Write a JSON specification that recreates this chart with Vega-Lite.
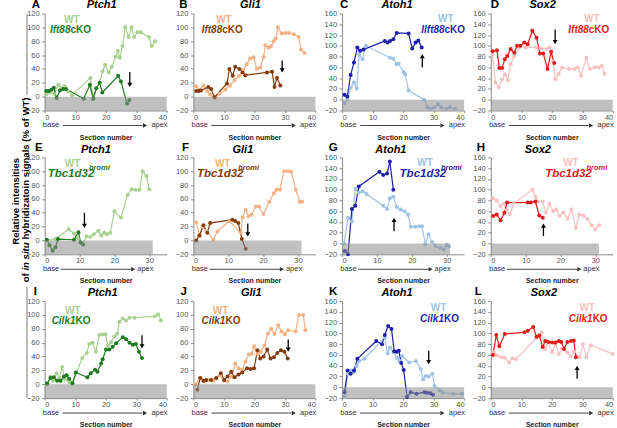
{
"$schema":"https://vega.github.io/schema/vega-lite/v6.json",
"padding":{"left":10.7,"top":-1.5,"right":0,"bottom":0},
"background":"white",
"config":{"font":"Liberation Sans","view":{"stroke":null},
"axis":{"domainColor":"#8a8a8a","tickColor":"#8a8a8a","labelColor":"#555","labelFontSize":7.5,"labelOverlap":false,"grid":false,"titleFontSize":7,"titleFontWeight":"bold","titleColor":"#222"},
"axisX":{"tickSize":2,"labelPadding":0.5,"titlePadding":12.5,"tickCount":10},
"axisY":{"tickSize":3,"labelPadding":2.5,"labelOverlap":false,"tickCount":12}},
"datasets":{
"A":[{"g":"WT","x":0.5,"y":3},{"g":"WT","x":1.5,"y":6},{"g":"WT","x":3,"y":4},{"g":"WT","x":4.5,"y":17},{"g":"WT","x":5.5,"y":12},{"g":"WT","x":6.5,"y":15},{"g":"WT","x":7.5,"y":8},{"g":"WT","x":9,"y":2},{"g":"WT","x":15,"y":27},{"g":"WT","x":16,"y":-3},{"g":"WT","x":17,"y":12},{"g":"WT","x":18,"y":20},{"g":"WT","x":19,"y":37},{"g":"WT","x":19.8,"y":46},{"g":"WT","x":21,"y":35},{"g":"WT","x":22,"y":43},{"g":"WT","x":23.3,"y":58},{"g":"WT","x":24,"y":66},{"g":"WT","x":24.6,"y":56},{"g":"WT","x":25.5,"y":73},{"g":"WT","x":26.4,"y":100},{"g":"WT","x":27.5,"y":86},{"g":"WT","x":28.5,"y":100},{"g":"WT","x":29.3,"y":86},{"g":"WT","x":30.4,"y":93},{"g":"WT","x":31.5,"y":93},{"g":"WT","x":34.2,"y":86},{"g":"WT","x":35.1,"y":73},{"g":"WT","x":36.2,"y":80},
{"g":"mut","x":0.5,"y":8},{"g":"mut","x":1.4,"y":8},{"g":"mut","x":2.2,"y":10},{"g":"mut","x":3,"y":13},{"g":"mut","x":3.9,"y":-2},{"g":"mut","x":5,"y":9},{"g":"mut","x":6.1,"y":11},{"g":"mut","x":7,"y":11},{"g":"mut","x":12.8,"y":-3},{"g":"mut","x":14.8,"y":17},{"g":"mut","x":15.9,"y":-3},{"g":"mut","x":16.9,"y":12},{"g":"mut","x":18,"y":20},{"g":"mut","x":18.9,"y":6},{"g":"mut","x":24.1,"y":30},{"g":"mut","x":25,"y":22},{"g":"mut","x":27,"y":-10},{"g":"mut","x":27.8,"y":-5}],
"B":[{"g":"WT","x":0.9,"y":15},{"g":"WT","x":1.8,"y":10},{"g":"WT","x":3.3,"y":16},{"g":"WT","x":4.5,"y":8},{"g":"WT","x":5.5,"y":3},{"g":"WT","x":7,"y":-2},{"g":"WT","x":8.5,"y":4},{"g":"WT","x":10.5,"y":10},{"g":"WT","x":12,"y":16},{"g":"WT","x":13.5,"y":24},{"g":"WT","x":15,"y":30},{"g":"WT","x":16.3,"y":38},{"g":"WT","x":17.5,"y":47},{"g":"WT","x":18.6,"y":55},{"g":"WT","x":19.7,"y":57},{"g":"WT","x":20.8,"y":40},{"g":"WT","x":21.9,"y":42},{"g":"WT","x":23,"y":57},{"g":"WT","x":23.6,"y":74},{"g":"WT","x":24.7,"y":71},{"g":"WT","x":25.5,"y":73},{"g":"WT","x":26.3,"y":80},{"g":"WT","x":27,"y":84},{"g":"WT","x":27.7,"y":100},{"g":"WT","x":29,"y":91},{"g":"WT","x":30.2,"y":92},{"g":"WT","x":31.3,"y":92},{"g":"WT","x":32.9,"y":90},{"g":"WT","x":34.5,"y":86},{"g":"WT","x":35.3,"y":68},{"g":"WT","x":36.4,"y":63},
{"g":"mut","x":0.9,"y":8},{"g":"mut","x":1.7,"y":8},{"g":"mut","x":2.5,"y":9},{"g":"mut","x":4.9,"y":14},{"g":"mut","x":5.8,"y":11},{"g":"mut","x":6.9,"y":-1},{"g":"mut","x":11,"y":19},{"g":"mut","x":11.8,"y":40},{"g":"mut","x":12.9,"y":30},{"g":"mut","x":13.7,"y":43},{"g":"mut","x":15.1,"y":40},{"g":"mut","x":16.1,"y":35},{"g":"mut","x":17,"y":31},{"g":"mut","x":24.1,"y":35},{"g":"mut","x":25.8,"y":36},{"g":"mut","x":26.6,"y":14},{"g":"mut","x":27.4,"y":27},{"g":"mut","x":28.5,"y":16}],
"C":[{"g":"WT","x":0.8,"y":-6},{"g":"WT","x":1.8,"y":2},{"g":"WT","x":2.8,"y":22},{"g":"WT","x":3.9,"y":32},{"g":"WT","x":4.8,"y":21},{"g":"WT","x":5.6,"y":84},{"g":"WT","x":6.7,"y":75},{"g":"WT","x":7.8,"y":100},{"g":"WT","x":15.7,"y":78},{"g":"WT","x":16.8,"y":76},{"g":"WT","x":17.9,"y":66},{"g":"WT","x":18.5,"y":67},{"g":"WT","x":20.2,"y":51},{"g":"WT","x":20.7,"y":47},{"g":"WT","x":21.8,"y":17},{"g":"WT","x":26.9,"y":0},{"g":"WT","x":28,"y":-14},{"g":"WT","x":29.1,"y":-17},{"g":"WT","x":30.2,"y":-14},{"g":"WT","x":31.4,"y":-8},{"g":"WT","x":32.5,"y":-14},{"g":"WT","x":34.2,"y":-17},{"g":"WT","x":35.3,"y":-14},{"g":"WT","x":37,"y":-17},
{"g":"mut","x":0.8,"y":9},{"g":"mut","x":1.7,"y":6},{"g":"mut","x":2.8,"y":46},{"g":"mut","x":3.9,"y":69},{"g":"mut","x":5,"y":97},{"g":"mut","x":5.9,"y":91},{"g":"mut","x":7,"y":93},{"g":"mut","x":14,"y":109},{"g":"mut","x":14.9,"y":106},{"g":"mut","x":15.7,"y":109},{"g":"mut","x":16.8,"y":112},{"g":"mut","x":17.9,"y":124},{"g":"mut","x":21.8,"y":123},{"g":"mut","x":23,"y":95},{"g":"mut","x":24.1,"y":106},{"g":"mut","x":25,"y":110},{"g":"mut","x":26.1,"y":97}],
"D":[{"g":"WT","x":0.6,"y":84},{"g":"WT","x":1.5,"y":32},{"g":"WT","x":2.6,"y":23},{"g":"WT","x":3.7,"y":38},{"g":"WT","x":4.6,"y":47},{"g":"WT","x":5.6,"y":36},{"g":"WT","x":6.5,"y":66},{"g":"WT","x":7.7,"y":80},{"g":"WT","x":9.4,"y":98},{"g":"WT","x":11.5,"y":97},{"g":"WT","x":15,"y":97},{"g":"WT","x":16.5,"y":95},{"g":"WT","x":18.3,"y":94},{"g":"WT","x":19.3,"y":97},{"g":"WT","x":20.4,"y":71},{"g":"WT","x":21.2,"y":38},{"g":"WT","x":22.3,"y":48},{"g":"WT","x":23.4,"y":60},{"g":"WT","x":25.7,"y":57},{"g":"WT","x":27.4,"y":57},{"g":"WT","x":28.5,"y":60},{"g":"WT","x":29.6,"y":44},{"g":"WT","x":31.3,"y":78},{"g":"WT","x":32.5,"y":57},{"g":"WT","x":34.1,"y":60},{"g":"WT","x":35.3,"y":60},{"g":"WT","x":36.4,"y":63},{"g":"WT","x":37.3,"y":48},
{"g":"mut","x":0.6,"y":90},{"g":"mut","x":2,"y":92},{"g":"mut","x":2.8,"y":59},{"g":"mut","x":3.7,"y":59},{"g":"mut","x":4.6,"y":75},{"g":"mut","x":5.4,"y":81},{"g":"mut","x":6.5,"y":94},{"g":"mut","x":7.7,"y":87},{"g":"mut","x":8.6,"y":100},{"g":"mut","x":9.7,"y":100},{"g":"mut","x":11,"y":106},{"g":"mut","x":12.1,"y":103},{"g":"mut","x":13.6,"y":128},{"g":"mut","x":15,"y":115},{"g":"mut","x":16.1,"y":86},{"g":"mut","x":17.2,"y":86},{"g":"mut","x":18.6,"y":57},{"g":"mut","x":19.8,"y":89},{"g":"mut","x":20.8,"y":68}],
"E":[{"g":"WT","x":0.6,"y":0},{"g":"WT","x":3,"y":2},{"g":"WT","x":6.9,"y":16},{"g":"WT","x":8.4,"y":10},{"g":"WT","x":9.5,"y":3},{"g":"WT","x":10.8,"y":-5},{"g":"WT","x":12,"y":6},{"g":"WT","x":13.1,"y":5},{"g":"WT","x":14.1,"y":9},{"g":"WT","x":15.4,"y":14},{"g":"WT","x":16.2,"y":7},{"g":"WT","x":17.1,"y":11},{"g":"WT","x":17.9,"y":9},{"g":"WT","x":18.8,"y":11},{"g":"WT","x":20,"y":42},{"g":"WT","x":21.9,"y":33},{"g":"WT","x":23.8,"y":66},{"g":"WT","x":24.9,"y":74},{"g":"WT","x":26,"y":73},{"g":"WT","x":27.2,"y":73},{"g":"WT","x":28.1,"y":100},{"g":"WT","x":29.2,"y":93},{"g":"WT","x":30,"y":74},
{"g":"mut","x":0.6,"y":1},{"g":"mut","x":1.4,"y":-7},{"g":"mut","x":2.3,"y":-15},{"g":"mut","x":3.1,"y":-10},{"g":"mut","x":3.8,"y":2},{"g":"mut","x":8.4,"y":1},{"g":"mut","x":9.7,"y":12},{"g":"mut","x":10.3,"y":-3},{"g":"mut","x":11,"y":-6}],
"F":[{"g":"WT","x":0.8,"y":26},{"g":"WT","x":1.9,"y":6},{"g":"WT","x":2.7,"y":20},{"g":"WT","x":3.8,"y":14},{"g":"WT","x":5.7,"y":1},{"g":"WT","x":6.9,"y":13},{"g":"WT","x":10.3,"y":28},{"g":"WT","x":13.6,"y":11},{"g":"WT","x":14.1,"y":33},{"g":"WT","x":15,"y":44},{"g":"WT","x":15.8,"y":35},{"g":"WT","x":16.7,"y":37},{"g":"WT","x":17.9,"y":49},{"g":"WT","x":18.8,"y":49},{"g":"WT","x":20.1,"y":38},{"g":"WT","x":21.8,"y":56},{"g":"WT","x":23.1,"y":68},{"g":"WT","x":23.8,"y":73},{"g":"WT","x":24.8,"y":73},{"g":"WT","x":26,"y":100},{"g":"WT","x":27.1,"y":100},{"g":"WT","x":28.1,"y":99},{"g":"WT","x":29.4,"y":73},{"g":"WT","x":30.5,"y":56},{"g":"WT","x":31.2,"y":56},
{"g":"mut","x":0.8,"y":0},{"g":"mut","x":1.7,"y":7},{"g":"mut","x":2.9,"y":22},{"g":"mut","x":4,"y":11},{"g":"mut","x":4.8,"y":25},{"g":"mut","x":11.2,"y":30},{"g":"mut","x":12,"y":28},{"g":"mut","x":12.9,"y":25},{"g":"mut","x":13.9,"y":2},{"g":"mut","x":15,"y":-12}],
"G":[{"g":"WT","x":0.6,"y":0},{"g":"WT","x":1.7,"y":48},{"g":"WT","x":2.8,"y":41},{"g":"WT","x":3.8,"y":101},{"g":"WT","x":4.8,"y":94},{"g":"WT","x":5.9,"y":97},{"g":"WT","x":7,"y":92},{"g":"WT","x":11.8,"y":70},{"g":"WT","x":12.9,"y":64},{"g":"WT","x":13.7,"y":84},{"g":"WT","x":14.7,"y":87},{"g":"WT","x":15.7,"y":68},{"g":"WT","x":16.8,"y":63},{"g":"WT","x":17.9,"y":60},{"g":"WT","x":18.9,"y":54},{"g":"WT","x":19.7,"y":31},{"g":"WT","x":21,"y":31},{"g":"WT","x":22.1,"y":32},{"g":"WT","x":22.9,"y":32},{"g":"WT","x":23.9,"y":-1},{"g":"WT","x":24.8,"y":17},{"g":"WT","x":25.8,"y":3},{"g":"WT","x":26.9,"y":-5},{"g":"WT","x":28.2,"y":-8},{"g":"WT","x":29.2,"y":-11},{"g":"WT","x":30,"y":-2},{"g":"WT","x":30.7,"y":-5},
{"g":"mut","x":0.8,"y":-14},{"g":"mut","x":1.7,"y":-20},{"g":"mut","x":2.8,"y":64},{"g":"mut","x":3.8,"y":70},{"g":"mut","x":4.8,"y":106},{"g":"mut","x":10.7,"y":133},{"g":"mut","x":11.8,"y":127},{"g":"mut","x":12.9,"y":130},{"g":"mut","x":13.7,"y":152},{"g":"mut","x":14.7,"y":100}],
"H":[{"g":"WT","x":0.7,"y":84},{"g":"WT","x":1.7,"y":80},{"g":"WT","x":2.8,"y":69},{"g":"WT","x":3.8,"y":74},{"g":"WT","x":4.6,"y":62},{"g":"WT","x":5.4,"y":54},{"g":"WT","x":6.7,"y":75},{"g":"WT","x":11.9,"y":100},{"g":"WT","x":12.8,"y":87},{"g":"WT","x":13.6,"y":78},{"g":"WT","x":14.9,"y":78},{"g":"WT","x":15.8,"y":57},{"g":"WT","x":16.8,"y":74},{"g":"WT","x":17.9,"y":60},{"g":"WT","x":18.8,"y":63},{"g":"WT","x":19.7,"y":51},{"g":"WT","x":20.8,"y":58},{"g":"WT","x":22,"y":46},{"g":"WT","x":23.1,"y":63},{"g":"WT","x":24.4,"y":29},{"g":"WT","x":25.4,"y":54},{"g":"WT","x":26.6,"y":52},{"g":"WT","x":27.7,"y":46},{"g":"WT","x":28.9,"y":34},{"g":"WT","x":30,"y":26},{"g":"WT","x":31.1,"y":34},
{"g":"mut","x":0.7,"y":51},{"g":"mut","x":1.7,"y":54},{"g":"mut","x":2.8,"y":43},{"g":"mut","x":3.9,"y":57},{"g":"mut","x":4.7,"y":76},{"g":"mut","x":10.6,"y":76},{"g":"mut","x":11.5,"y":76},{"g":"mut","x":12.8,"y":78},{"g":"mut","x":13.9,"y":52},{"g":"mut","x":14.9,"y":48}],
"I":[{"g":"WT","x":0.8,"y":0},{"g":"WT","x":1.9,"y":11},{"g":"WT","x":2.8,"y":5},{"g":"WT","x":3.9,"y":16},{"g":"WT","x":4.8,"y":9},{"g":"WT","x":5.7,"y":25},{"g":"WT","x":6.6,"y":8},{"g":"WT","x":8,"y":3},{"g":"WT","x":9.1,"y":1},{"g":"WT","x":12.3,"y":38},{"g":"WT","x":13.8,"y":45},{"g":"WT","x":14.6,"y":58},{"g":"WT","x":15.7,"y":60},{"g":"WT","x":16.8,"y":47},{"g":"WT","x":17.9,"y":71},{"g":"WT","x":19,"y":72},{"g":"WT","x":19.9,"y":72},{"g":"WT","x":20.7,"y":56},{"g":"WT","x":21.8,"y":61},{"g":"WT","x":22.9,"y":69},{"g":"WT","x":23.8,"y":73},{"g":"WT","x":24.5,"y":90},{"g":"WT","x":25.6,"y":95},{"g":"WT","x":26.7,"y":92},{"g":"WT","x":27.8,"y":96},{"g":"WT","x":29.5,"y":96},{"g":"WT","x":36.1,"y":98},{"g":"WT","x":37.2,"y":101},{"g":"WT","x":38.1,"y":92},
{"g":"mut","x":0.8,"y":1},{"g":"mut","x":1.9,"y":9},{"g":"mut","x":3,"y":10},{"g":"mut","x":4.1,"y":5},{"g":"mut","x":5.2,"y":5},{"g":"mut","x":6.3,"y":11},{"g":"mut","x":7.2,"y":13},{"g":"mut","x":8,"y":8},{"g":"mut","x":9.1,"y":1},{"g":"mut","x":10.2,"y":17},{"g":"mut","x":14,"y":10},{"g":"mut","x":15.1,"y":16},{"g":"mut","x":16.5,"y":21},{"g":"mut","x":17.3,"y":18},{"g":"mut","x":18.5,"y":30},{"g":"mut","x":19,"y":36},{"g":"mut","x":20.1,"y":50},{"g":"mut","x":21.2,"y":50},{"g":"mut","x":22.3,"y":54},{"g":"mut","x":23.4,"y":59},{"g":"mut","x":25.6,"y":68},{"g":"mut","x":26.7,"y":65},{"g":"mut","x":27.8,"y":60},{"g":"mut","x":28.9,"y":57},{"g":"mut","x":29.9,"y":58},{"g":"mut","x":30.9,"y":47},{"g":"mut","x":31.9,"y":38}],
"J":[{"g":"WT","x":0.6,"y":0},{"g":"WT","x":2.5,"y":9},{"g":"WT","x":3.8,"y":4},{"g":"WT","x":4.9,"y":6},{"g":"WT","x":6.4,"y":5},{"g":"WT","x":7.5,"y":9},{"g":"WT","x":8.7,"y":13},{"g":"WT","x":10,"y":5},{"g":"WT","x":11.2,"y":4},{"g":"WT","x":12.6,"y":11},{"g":"WT","x":13.7,"y":30},{"g":"WT","x":14.8,"y":23},{"g":"WT","x":16,"y":21},{"g":"WT","x":17.1,"y":33},{"g":"WT","x":18.2,"y":43},{"g":"WT","x":19.1,"y":44},{"g":"WT","x":19.9,"y":55},{"g":"WT","x":21,"y":44},{"g":"WT","x":22.1,"y":47},{"g":"WT","x":23.3,"y":56},{"g":"WT","x":24.4,"y":73},{"g":"WT","x":25.5,"y":80},{"g":"WT","x":26.6,"y":73},{"g":"WT","x":27.8,"y":85},{"g":"WT","x":28.9,"y":76},{"g":"WT","x":30,"y":72},{"g":"WT","x":31.1,"y":78},{"g":"WT","x":33.5,"y":76},{"g":"WT","x":34.6,"y":100},{"g":"WT","x":36,"y":100},{"g":"WT","x":36.7,"y":78},
{"g":"mut","x":1.3,"y":-8},{"g":"mut","x":2.2,"y":9},{"g":"mut","x":3.3,"y":5},{"g":"mut","x":4.2,"y":6},{"g":"mut","x":5.8,"y":6},{"g":"mut","x":7.5,"y":9},{"g":"mut","x":9,"y":16},{"g":"mut","x":10.1,"y":6},{"g":"mut","x":11.2,"y":11},{"g":"mut","x":12.4,"y":18},{"g":"mut","x":13.5,"y":10},{"g":"mut","x":14.8,"y":14},{"g":"mut","x":16,"y":17},{"g":"mut","x":17.6,"y":23},{"g":"mut","x":18.8,"y":22},{"g":"mut","x":19.9,"y":23},{"g":"mut","x":21,"y":49},{"g":"mut","x":21.9,"y":37},{"g":"mut","x":23,"y":40},{"g":"mut","x":24.2,"y":50},{"g":"mut","x":25.3,"y":37},{"g":"mut","x":26.4,"y":39},{"g":"mut","x":27.5,"y":45},{"g":"mut","x":28.7,"y":49},{"g":"mut","x":29.8,"y":47},{"g":"mut","x":30.9,"y":37}],
"K":[{"g":"WT","x":0.8,"y":-18},{"g":"WT","x":1.9,"y":25},{"g":"WT","x":2.8,"y":31},{"g":"WT","x":3.9,"y":28},{"g":"WT","x":4.8,"y":40},{"g":"WT","x":5.6,"y":49},{"g":"WT","x":7.3,"y":53},{"g":"WT","x":14,"y":92},{"g":"WT","x":14.9,"y":63},{"g":"WT","x":15.7,"y":74},{"g":"WT","x":16.9,"y":65},{"g":"WT","x":18,"y":55},{"g":"WT","x":18.8,"y":49},{"g":"WT","x":19.7,"y":58},{"g":"WT","x":21.9,"y":46},{"g":"WT","x":24.2,"y":49},{"g":"WT","x":25.8,"y":34},{"g":"WT","x":26.6,"y":15},{"g":"WT","x":27.5,"y":21},{"g":"WT","x":28.4,"y":20},{"g":"WT","x":29.6,"y":25},{"g":"WT","x":30.3,"y":3},{"g":"WT","x":32,"y":-6},{"g":"WT","x":33,"y":-10},{"g":"WT","x":36.5,"y":-12},{"g":"WT","x":39.3,"y":-12},
{"g":"mut","x":0.8,"y":-9},{"g":"mut","x":1.8,"y":31},{"g":"mut","x":2.8,"y":25},{"g":"mut","x":3.9,"y":31},{"g":"mut","x":5,"y":53},{"g":"mut","x":11.2,"y":86},{"g":"mut","x":13.1,"y":80},{"g":"mut","x":14,"y":97},{"g":"mut","x":15.1,"y":114},{"g":"mut","x":16.2,"y":108},{"g":"mut","x":17.1,"y":67},{"g":"mut","x":17.9,"y":66},{"g":"mut","x":18.6,"y":68},{"g":"mut","x":19.4,"y":45},{"g":"mut","x":20.2,"y":32},{"g":"mut","x":21.3,"y":-18},{"g":"mut","x":22.5,"y":-9},{"g":"mut","x":24.4,"y":-12},{"g":"mut","x":27,"y":-9},{"g":"mut","x":27.8,"y":-10},{"g":"mut","x":28.9,"y":-11},{"g":"mut","x":29.8,"y":-14}],
"L":[{"g":"WT","x":0.9,"y":65},{"g":"WT","x":2,"y":59},{"g":"WT","x":3.5,"y":56},{"g":"WT","x":4.6,"y":55},{"g":"WT","x":6,"y":46},{"g":"WT","x":7.1,"y":54},{"g":"WT","x":8.2,"y":52},{"g":"WT","x":15,"y":92},{"g":"WT","x":16.7,"y":102},{"g":"WT","x":17.8,"y":71},{"g":"WT","x":18.8,"y":84},{"g":"WT","x":20.1,"y":65},{"g":"WT","x":21.2,"y":80},{"g":"WT","x":22.3,"y":62},{"g":"WT","x":23.4,"y":72},{"g":"WT","x":25.1,"y":65},{"g":"WT","x":26.2,"y":57},{"g":"WT","x":27.3,"y":66},{"g":"WT","x":29.1,"y":56},{"g":"WT","x":30.2,"y":80},{"g":"WT","x":31.3,"y":56},{"g":"WT","x":32.8,"y":78},{"g":"WT","x":40,"y":62},
{"g":"mut","x":0.7,"y":60},{"g":"mut","x":1.8,"y":97},{"g":"mut","x":2.8,"y":76},{"g":"mut","x":4.6,"y":99},{"g":"mut","x":11,"y":102},{"g":"mut","x":12.1,"y":105},{"g":"mut","x":13.9,"y":112},{"g":"mut","x":15,"y":94},{"g":"mut","x":15.9,"y":96},{"g":"mut","x":17,"y":75},{"g":"mut","x":17.9,"y":86},{"g":"mut","x":18.9,"y":84},{"g":"mut","x":20.1,"y":83},{"g":"mut","x":21.2,"y":83},{"g":"mut","x":22.3,"y":86},{"g":"mut","x":23.1,"y":84},{"g":"mut","x":24,"y":71},{"g":"mut","x":25.1,"y":84},{"g":"mut","x":26.3,"y":86},{"g":"mut","x":27.2,"y":87},{"g":"mut","x":27.9,"y":56}]
},
"columns":4,
"spacing":{"row":46.8,"column":26.7},
"bounds":"flush",
"resolve":{"scale":{"color":"independent"}},
"concat":[
{"width":122,"height":97,"layer":[
{"data":{"name":"A"},"mark":{"type":"line","strokeWidth":1.2,"point":{"filled":true,"size":16,"opacity":1}},"encoding":{"x":{"field":"x","type":"quantitative","scale":{"domain":[0,40]},"axis":{"values":[0,10,20,30,40],"tickCount":10,"title":"Section number"}},"y":{"field":"y","type":"quantitative","scale":{"domain":[-20,120]},"axis":{"values":[-20,0,20,40,60,80,100,120],"tickCount":12,"labelOverlap":false,"title":null}},"color":{"field":"g","type":"nominal","scale":{"domain":["WT","mut"],"range":["#a9d18e","#1e7a1e"]},"legend":null}}},
{"data":{"values":[{}]},"mark":{"type":"rect","fill":"#8c8c8c","opacity":0.55},"encoding":{"x":{"datum":0},"x2":{"datum":40},"y":{"datum":-20},"y2":{"datum":0}}},
{"data":{"values":[{}]},"mark":{"type":"rule","color":"black","strokeWidth":1.3},"encoding":{"x":{"datum":27.9},"y":{"datum":35.5},"y2":{"datum":16.9}}},
{"data":{"values":[{}]},"mark":{"type":"point","shape":"triangle-down","filled":true,"size":24,"color":"black","opacity":1},"encoding":{"x":{"datum":27.9},"y":{"datum":16.9}}},
{"data":{"values":[{}]},"mark":{"type":"text","text":"A","fontSize":11.5,"fontWeight":"bold","align":"left","baseline":"middle","color":"black"},"encoding":{"x":{"datum":-4.26},"y":{"datum":132.3}}},
{"data":{"values":[{}]},"mark":{"type":"text","text":"Ptch1","fontSize":11,"fontWeight":"bold","fontStyle":"italic","align":"center","baseline":"middle","color":"black"},"encoding":{"x":{"datum":18.7},"y":{"datum":132.3}}},
{"data":{"values":[{}]},"mark":{"type":"text","text":"WT","fontSize":10,"fontWeight":"bold","align":"center","baseline":"middle","color":"#a9d18e"},"encoding":{"x":{"datum":8.9},"y":{"datum":111}}},
{"data":{"values":[{}]},"mark":{"type":"text","text":"Ift88","fontSize":10,"fontWeight":"bold","fontStyle":"italic","align":"right","baseline":"middle","color":"#1e7a1e"},"encoding":{"x":{"datum":8.44},"y":{"datum":96}}},
{"data":{"values":[{}]},"mark":{"type":"text","text":"\u00a0cKO","fontSize":10,"fontWeight":"bold","align":"left","baseline":"middle","color":"#1e7a1e"},"encoding":{"x":{"datum":8.44},"y":{"datum":96}}},
{"data":{"values":[{}]},"mark":{"type":"text","text":"base","fontSize":7.5,"align":"left","baseline":"middle","color":"#333"},"encoding":{"x":{"datum":-0.6},"y":{"datum":-41.6}}},
{"data":{"values":[{}]},"mark":{"type":"text","text":"apex","fontSize":7.5,"align":"right","baseline":"middle","color":"#333"},"encoding":{"x":{"datum":40.3},"y":{"datum":-41.6}}},
{"data":{"values":[{}]},"mark":{"type":"rule","color":"#444","strokeWidth":1},"encoding":{"x":{"datum":5.9},"x2":{"datum":32.1},"y":{"datum":-41.6}}},
{"data":{"values":[{}]},"mark":{"type":"point","shape":"triangle-right","filled":true,"size":22,"color":"#333","opacity":1},"encoding":{"x":{"datum":32.9},"y":{"datum":-41.6}}}
]},
{"width":122,"height":97,"layer":[
{"data":{"name":"B"},"mark":{"type":"line","strokeWidth":1.2,"point":{"filled":true,"size":16,"opacity":1}},"encoding":{"x":{"field":"x","type":"quantitative","scale":{"domain":[0,40]},"axis":{"values":[0,10,20,30,40],"tickCount":10,"title":"Section number"}},"y":{"field":"y","type":"quantitative","scale":{"domain":[-20,120]},"axis":{"values":[-20,0,20,40,60,80,100,120],"tickCount":12,"labelOverlap":false,"title":null}},"color":{"field":"g","type":"nominal","scale":{"domain":["WT","mut"],"range":["#f4b183","#843c0c"]},"legend":null}}},
{"data":{"values":[{}]},"mark":{"type":"rect","fill":"#8c8c8c","opacity":0.55},"encoding":{"x":{"datum":0},"x2":{"datum":40},"y":{"datum":-20},"y2":{"datum":0}}},
{"data":{"values":[{}]},"mark":{"type":"rule","color":"black","strokeWidth":1.3},"encoding":{"x":{"datum":29.1},"y":{"datum":52},"y2":{"datum":37.9}}},
{"data":{"values":[{}]},"mark":{"type":"point","shape":"triangle-down","filled":true,"size":24,"color":"black","opacity":1},"encoding":{"x":{"datum":29.1},"y":{"datum":37.9}}},
{"data":{"values":[{}]},"mark":{"type":"text","text":"B","fontSize":11.5,"fontWeight":"bold","align":"left","baseline":"middle","color":"black"},"encoding":{"x":{"datum":-4.6},"y":{"datum":132.3}}},
{"data":{"values":[{}]},"mark":{"type":"text","text":"Gli1","fontSize":11,"fontWeight":"bold","fontStyle":"italic","align":"center","baseline":"middle","color":"black"},"encoding":{"x":{"datum":18.7},"y":{"datum":132.3}}},
{"data":{"values":[{}]},"mark":{"type":"text","text":"WT","fontSize":10,"fontWeight":"bold","align":"center","baseline":"middle","color":"#f4b183"},"encoding":{"x":{"datum":10},"y":{"datum":111}}},
{"data":{"values":[{}]},"mark":{"type":"text","text":"Ift88","fontSize":10,"fontWeight":"bold","fontStyle":"italic","align":"right","baseline":"middle","color":"#843c0c"},"encoding":{"x":{"datum":9.44},"y":{"datum":96}}},
{"data":{"values":[{}]},"mark":{"type":"text","text":"\u00a0cKO","fontSize":10,"fontWeight":"bold","align":"left","baseline":"middle","color":"#843c0c"},"encoding":{"x":{"datum":9.44},"y":{"datum":96}}},
{"data":{"values":[{}]},"mark":{"type":"text","text":"base","fontSize":7.5,"align":"left","baseline":"middle","color":"#333"},"encoding":{"x":{"datum":-0.6},"y":{"datum":-41.6}}},
{"data":{"values":[{}]},"mark":{"type":"text","text":"apex","fontSize":7.5,"align":"right","baseline":"middle","color":"#333"},"encoding":{"x":{"datum":40.3},"y":{"datum":-41.6}}},
{"data":{"values":[{}]},"mark":{"type":"rule","color":"#444","strokeWidth":1},"encoding":{"x":{"datum":5.9},"x2":{"datum":32.1},"y":{"datum":-41.6}}},
{"data":{"values":[{}]},"mark":{"type":"point","shape":"triangle-right","filled":true,"size":22,"color":"#333","opacity":1},"encoding":{"x":{"datum":32.9},"y":{"datum":-41.6}}}
]},
{"width":122,"height":97,"layer":[
{"data":{"name":"C"},"mark":{"type":"line","strokeWidth":1.2,"point":{"filled":true,"size":16,"opacity":1}},"encoding":{"x":{"field":"x","type":"quantitative","scale":{"domain":[0,40]},"axis":{"values":[0,10,20,30,40],"tickCount":10,"title":"Section number"}},"y":{"field":"y","type":"quantitative","scale":{"domain":[-20,160]},"axis":{"values":[-20,0,20,40,60,80,100,120,140,160],"tickCount":12,"labelOverlap":false,"title":null}},"color":{"field":"g","type":"nominal","scale":{"domain":["WT","mut"],"range":["#9dc3e6","#1f1fa8"]},"legend":null}}},
{"data":{"values":[{}]},"mark":{"type":"rect","fill":"#8c8c8c","opacity":0.55},"encoding":{"x":{"datum":0},"x2":{"datum":40},"y":{"datum":-20},"y2":{"datum":0}}},
{"data":{"values":[{}]},"mark":{"type":"rule","color":"black","strokeWidth":1.3},"encoding":{"x":{"datum":26.3},"y":{"datum":60},"y2":{"datum":80.8}}},
{"data":{"values":[{}]},"mark":{"type":"point","shape":"triangle-up","filled":true,"size":24,"color":"black","opacity":1},"encoding":{"x":{"datum":26.3},"y":{"datum":80.8}}},
{"data":{"values":[{}]},"mark":{"type":"text","text":"C","fontSize":11.5,"fontWeight":"bold","align":"left","baseline":"middle","color":"black"},"encoding":{"x":{"datum":-0.66},"y":{"datum":175.8}}},
{"data":{"values":[{}]},"mark":{"type":"text","text":"Atoh1","fontSize":11,"fontWeight":"bold","fontStyle":"italic","align":"center","baseline":"middle","color":"black"},"encoding":{"x":{"datum":18},"y":{"datum":175.8}}},
{"data":{"values":[{}]},"mark":{"type":"text","text":"WT","fontSize":10,"fontWeight":"bold","align":"center","baseline":"middle","color":"#9dc3e6"},"encoding":{"x":{"datum":34},"y":{"datum":149}}},
{"data":{"values":[{}]},"mark":{"type":"text","text":"Ilft88","fontSize":10,"fontWeight":"bold","fontStyle":"italic","align":"right","baseline":"middle","color":"#1f1fa8"},"encoding":{"x":{"datum":33.6},"y":{"datum":130}}},
{"data":{"values":[{}]},"mark":{"type":"text","text":"\u00a0cKO","fontSize":10,"fontWeight":"bold","align":"left","baseline":"middle","color":"#1f1fa8"},"encoding":{"x":{"datum":33.6},"y":{"datum":130}}},
{"data":{"values":[{}]},"mark":{"type":"text","text":"base","fontSize":7.5,"align":"left","baseline":"middle","color":"#333"},"encoding":{"x":{"datum":-0.6},"y":{"datum":-47.8}}},
{"data":{"values":[{}]},"mark":{"type":"text","text":"apex","fontSize":7.5,"align":"right","baseline":"middle","color":"#333"},"encoding":{"x":{"datum":40.3},"y":{"datum":-47.8}}},
{"data":{"values":[{}]},"mark":{"type":"rule","color":"#444","strokeWidth":1},"encoding":{"x":{"datum":5.9},"x2":{"datum":32.1},"y":{"datum":-47.8}}},
{"data":{"values":[{}]},"mark":{"type":"point","shape":"triangle-right","filled":true,"size":22,"color":"#333","opacity":1},"encoding":{"x":{"datum":32.9},"y":{"datum":-47.8}}}
]},
{"width":122,"height":97,"layer":[
{"data":{"name":"D"},"mark":{"type":"line","strokeWidth":1.2,"point":{"filled":true,"size":16,"opacity":1}},"encoding":{"x":{"field":"x","type":"quantitative","scale":{"domain":[0,40]},"axis":{"values":[0,10,20,30,40],"tickCount":10,"title":"Section number"}},"y":{"field":"y","type":"quantitative","scale":{"domain":[-20,160]},"axis":{"values":[-20,0,20,40,60,80,100,120,140,160],"tickCount":12,"labelOverlap":false,"title":null}},"color":{"field":"g","type":"nominal","scale":{"domain":["WT","mut"],"range":["#f7c1c1","#e31b1b"]},"legend":null}}},
{"data":{"values":[{}]},"mark":{"type":"rect","fill":"#8c8c8c","opacity":0.55},"encoding":{"x":{"datum":0},"x2":{"datum":40},"y":{"datum":-20},"y2":{"datum":0}}},
{"data":{"values":[{}]},"mark":{"type":"rule","color":"black","strokeWidth":1.3},"encoding":{"x":{"datum":21.1},"y":{"datum":130.5},"y2":{"datum":106.7}}},
{"data":{"values":[{}]},"mark":{"type":"point","shape":"triangle-down","filled":true,"size":24,"color":"black","opacity":1},"encoding":{"x":{"datum":21.1},"y":{"datum":106.7}}},
{"data":{"values":[{}]},"mark":{"type":"text","text":"D","fontSize":11.5,"fontWeight":"bold","align":"left","baseline":"middle","color":"black"},"encoding":{"x":{"datum":0},"y":{"datum":175.8}}},
{"data":{"values":[{}]},"mark":{"type":"text","text":"Sox2","fontSize":11,"fontWeight":"bold","fontStyle":"italic","align":"center","baseline":"middle","color":"black"},"encoding":{"x":{"datum":17},"y":{"datum":175.8}}},
{"data":{"values":[{}]},"mark":{"type":"text","text":"WT","fontSize":10,"fontWeight":"bold","align":"center","baseline":"middle","color":"#f7c1c1"},"encoding":{"x":{"datum":33.1},"y":{"datum":149}}},
{"data":{"values":[{}]},"mark":{"type":"text","text":"Ift88","fontSize":10,"fontWeight":"bold","fontStyle":"italic","align":"right","baseline":"middle","color":"#e31b1b"},"encoding":{"x":{"datum":32.14},"y":{"datum":130}}},
{"data":{"values":[{}]},"mark":{"type":"text","text":"\u00a0cKO","fontSize":10,"fontWeight":"bold","align":"left","baseline":"middle","color":"#e31b1b"},"encoding":{"x":{"datum":32.14},"y":{"datum":130}}},
{"data":{"values":[{}]},"mark":{"type":"text","text":"base","fontSize":7.5,"align":"left","baseline":"middle","color":"#333"},"encoding":{"x":{"datum":-0.6},"y":{"datum":-47.8}}},
{"data":{"values":[{}]},"mark":{"type":"text","text":"apex","fontSize":7.5,"align":"right","baseline":"middle","color":"#333"},"encoding":{"x":{"datum":40.3},"y":{"datum":-47.8}}},
{"data":{"values":[{}]},"mark":{"type":"rule","color":"#444","strokeWidth":1},"encoding":{"x":{"datum":5.9},"x2":{"datum":32.1},"y":{"datum":-47.8}}},
{"data":{"values":[{}]},"mark":{"type":"point","shape":"triangle-right","filled":true,"size":22,"color":"#333","opacity":1},"encoding":{"x":{"datum":32.9},"y":{"datum":-47.8}}}
]},
{"width":122,"height":97,"layer":[
{"data":{"name":"E"},"mark":{"type":"line","strokeWidth":1.2,"point":{"filled":true,"size":16,"opacity":1}},"encoding":{"x":{"field":"x","type":"quantitative","scale":{"domain":[0,31]},"axis":{"values":[0,10,20,30],"tickCount":10,"title":"Section number"}},"y":{"field":"y","type":"quantitative","scale":{"domain":[-20,120]},"axis":{"values":[-20,0,20,40,60,80,100,120],"tickCount":12,"labelOverlap":false,"title":null}},"color":{"field":"g","type":"nominal","scale":{"domain":["WT","mut"],"range":["#a9d18e","#1e7a1e"]},"legend":null}}},
{"data":{"values":[{}]},"mark":{"type":"rect","fill":"#8c8c8c","opacity":0.55},"encoding":{"x":{"datum":0},"x2":{"datum":31},"y":{"datum":-20},"y2":{"datum":0}}},
{"data":{"values":[{}]},"mark":{"type":"rule","color":"black","strokeWidth":1.3},"encoding":{"x":{"datum":11.4},"y":{"datum":40},"y2":{"datum":20.9}}},
{"data":{"values":[{}]},"mark":{"type":"point","shape":"triangle-down","filled":true,"size":24,"color":"black","opacity":1},"encoding":{"x":{"datum":11.4},"y":{"datum":20.9}}},
{"data":{"values":[{}]},"mark":{"type":"text","text":"E","fontSize":11.5,"fontWeight":"bold","align":"left","baseline":"middle","color":"black"},"encoding":{"x":{"datum":-2.8},"y":{"datum":133}}},
{"data":{"values":[{}]},"mark":{"type":"text","text":"Ptch1","fontSize":11,"fontWeight":"bold","fontStyle":"italic","align":"center","baseline":"middle","color":"black"},"encoding":{"x":{"datum":14.7},"y":{"datum":131}}},
{"data":{"values":[{}]},"mark":{"type":"text","text":"WT","fontSize":10,"fontWeight":"bold","align":"center","baseline":"middle","color":"#a9d18e"},"encoding":{"x":{"datum":8},"y":{"datum":111}}},
{"data":{"values":[{}]},"mark":{"type":"text","text":"Tbc1d32","fontSize":11.5,"fontWeight":"bold","fontStyle":"italic","align":"left","baseline":"middle","color":"#1e7a1e"},"encoding":{"x":{"datum":0.86},"y":{"datum":96}}},
{"data":{"values":[{}]},"mark":{"type":"text","text":"bromi","fontSize":7.5,"fontWeight":"bold","fontStyle":"italic","align":"left","baseline":"middle","color":"#1e7a1e"},"encoding":{"x":{"datum":12.7},"y":{"datum":104}}},
{"data":{"values":[{}]},"mark":{"type":"text","text":"base","fontSize":7.5,"align":"left","baseline":"middle","color":"#333"},"encoding":{"x":{"datum":-0.5},"y":{"datum":-41.6}}},
{"data":{"values":[{}]},"mark":{"type":"text","text":"apex","fontSize":7.5,"align":"right","baseline":"middle","color":"#333"},"encoding":{"x":{"datum":31.2},"y":{"datum":-41.6}}},
{"data":{"values":[{}]},"mark":{"type":"rule","color":"#444","strokeWidth":1},"encoding":{"x":{"datum":4.6},"x2":{"datum":24.9},"y":{"datum":-41.6}}},
{"data":{"values":[{}]},"mark":{"type":"point","shape":"triangle-right","filled":true,"size":22,"color":"#333","opacity":1},"encoding":{"x":{"datum":25.4},"y":{"datum":-41.6}}},
{"data":{"values":[{}]},"mark":{"type":"text","text":"Relative intensities","fontSize":9.6,"fontWeight":"bold","angle":270,"align":"center","baseline":"middle","color":"black"},"encoding":{"x":{"datum":-8.26},"y":{"datum":56.5}}},
{"data":{"values":[{}]},"mark":{"type":"text","text":"of","fontSize":9.6,"fontWeight":"bold","angle":270,"align":"left","baseline":"middle","color":"black"},"encoding":{"x":{"datum":-5.46},"y":{"datum":-60.4}}},
{"data":{"values":[{}]},"mark":{"type":"text","text":"in situ","fontSize":9.6,"fontWeight":"bold","fontStyle":"italic","angle":270,"align":"left","baseline":"middle","color":"black"},"encoding":{"x":{"datum":-5.46},"y":{"datum":-43.5}}},
{"data":{"values":[{}]},"mark":{"type":"text","text":"hybridizatoin signals (% of WT)","fontSize":9.6,"fontWeight":"bold","angle":270,"align":"left","baseline":"middle","color":"black"},"encoding":{"x":{"datum":-5.46},"y":{"datum":1.2}}},
{"data":{"values":[{}]},"mark":{"type":"rule","color":"#777","strokeWidth":1},"encoding":{"x":{"datum":-5.08},"y":{"datum":327},"y2":{"datum":210.2}}},
{"data":{"values":[{}]},"mark":{"type":"rule","color":"#777","strokeWidth":1},"encoding":{"x":{"datum":-5.08},"y":{"datum":-66.9},"y2":{"datum":-227}}}
]},
{"width":122,"height":97,"layer":[
{"data":{"name":"F"},"mark":{"type":"line","strokeWidth":1.2,"point":{"filled":true,"size":16,"opacity":1}},"encoding":{"x":{"field":"x","type":"quantitative","scale":{"domain":[0,31]},"axis":{"values":[0,10,20,30],"tickCount":10,"title":"Section number"}},"y":{"field":"y","type":"quantitative","scale":{"domain":[-20,120]},"axis":{"values":[-20,0,20,40,60,80,100,120],"tickCount":12,"labelOverlap":false,"title":null}},"color":{"field":"g","type":"nominal","scale":{"domain":["WT","mut"],"range":["#f4b183","#843c0c"]},"legend":null}}},
{"data":{"values":[{}]},"mark":{"type":"rect","fill":"#8c8c8c","opacity":0.55},"encoding":{"x":{"datum":0},"x2":{"datum":31},"y":{"datum":-20},"y2":{"datum":0}}},
{"data":{"values":[{}]},"mark":{"type":"rule","color":"black","strokeWidth":1.3},"encoding":{"x":{"datum":15.6},"y":{"datum":24.4},"y2":{"datum":8.9}}},
{"data":{"values":[{}]},"mark":{"type":"point","shape":"triangle-down","filled":true,"size":24,"color":"black","opacity":1},"encoding":{"x":{"datum":15.6},"y":{"datum":8.9}}},
{"data":{"values":[{}]},"mark":{"type":"text","text":"F","fontSize":11.5,"fontWeight":"bold","align":"left","baseline":"middle","color":"black"},"encoding":{"x":{"datum":-3.3},"y":{"datum":133}}},
{"data":{"values":[{}]},"mark":{"type":"text","text":"Gli1","fontSize":11,"fontWeight":"bold","fontStyle":"italic","align":"center","baseline":"middle","color":"black"},"encoding":{"x":{"datum":14.2},"y":{"datum":131}}},
{"data":{"values":[{}]},"mark":{"type":"text","text":"WT","fontSize":10,"fontWeight":"bold","align":"center","baseline":"middle","color":"#f4b183"},"encoding":{"x":{"datum":8.4},"y":{"datum":111}}},
{"data":{"values":[{}]},"mark":{"type":"text","text":"Tbc1d32","fontSize":11.5,"fontWeight":"bold","fontStyle":"italic","align":"left","baseline":"middle","color":"#843c0c"},"encoding":{"x":{"datum":1},"y":{"datum":96}}},
{"data":{"values":[{}]},"mark":{"type":"text","text":"bromi","fontSize":7.5,"fontWeight":"bold","fontStyle":"italic","align":"left","baseline":"middle","color":"#843c0c"},"encoding":{"x":{"datum":12.85},"y":{"datum":104}}},
{"data":{"values":[{}]},"mark":{"type":"text","text":"base","fontSize":7.5,"align":"left","baseline":"middle","color":"#333"},"encoding":{"x":{"datum":-0.5},"y":{"datum":-41.6}}},
{"data":{"values":[{}]},"mark":{"type":"text","text":"apex","fontSize":7.5,"align":"right","baseline":"middle","color":"#333"},"encoding":{"x":{"datum":31.2},"y":{"datum":-41.6}}},
{"data":{"values":[{}]},"mark":{"type":"rule","color":"#444","strokeWidth":1},"encoding":{"x":{"datum":4.6},"x2":{"datum":24.9},"y":{"datum":-41.6}}},
{"data":{"values":[{}]},"mark":{"type":"point","shape":"triangle-right","filled":true,"size":22,"color":"#333","opacity":1},"encoding":{"x":{"datum":25.4},"y":{"datum":-41.6}}}
]},
{"width":122,"height":97,"layer":[
{"data":{"name":"G"},"mark":{"type":"line","strokeWidth":1.2,"point":{"filled":true,"size":16,"opacity":1}},"encoding":{"x":{"field":"x","type":"quantitative","scale":{"domain":[0,31]},"axis":{"values":[0,10,20,30],"tickCount":10,"title":"Section number"}},"y":{"field":"y","type":"quantitative","scale":{"domain":[-20,160]},"axis":{"values":[-20,0,20,40,60,80,100,120,140,160],"tickCount":12,"labelOverlap":false,"title":null}},"color":{"field":"g","type":"nominal","scale":{"domain":["WT","mut"],"range":["#9dc3e6","#1f1fa8"]},"legend":null}}},
{"data":{"values":[{}]},"mark":{"type":"rect","fill":"#8c8c8c","opacity":0.55},"encoding":{"x":{"datum":0},"x2":{"datum":31},"y":{"datum":-20},"y2":{"datum":0}}},
{"data":{"values":[{}]},"mark":{"type":"rule","color":"black","strokeWidth":1.3},"encoding":{"x":{"datum":14.9},"y":{"datum":23},"y2":{"datum":43.9}}},
{"data":{"values":[{}]},"mark":{"type":"point","shape":"triangle-up","filled":true,"size":24,"color":"black","opacity":1},"encoding":{"x":{"datum":14.9},"y":{"datum":43.9}}},
{"data":{"values":[{}]},"mark":{"type":"text","text":"G","fontSize":11.5,"fontWeight":"bold","align":"left","baseline":"middle","color":"black"},"encoding":{"x":{"datum":-3.8},"y":{"datum":176.7}}},
{"data":{"values":[{}]},"mark":{"type":"text","text":"Atoh1","fontSize":11,"fontWeight":"bold","fontStyle":"italic","align":"center","baseline":"middle","color":"black"},"encoding":{"x":{"datum":14},"y":{"datum":174}}},
{"data":{"values":[{}]},"mark":{"type":"text","text":"WT","fontSize":10,"fontWeight":"bold","align":"center","baseline":"middle","color":"#9dc3e6"},"encoding":{"x":{"datum":23.8},"y":{"datum":149}}},
{"data":{"values":[{}]},"mark":{"type":"text","text":"Tbc1d32","fontSize":11.5,"fontWeight":"bold","fontStyle":"italic","align":"left","baseline":"middle","color":"#1f1fa8"},"encoding":{"x":{"datum":16.5},"y":{"datum":129.4}}},
{"data":{"values":[{}]},"mark":{"type":"text","text":"bromi","fontSize":7.5,"fontWeight":"bold","fontStyle":"italic","align":"left","baseline":"middle","color":"#1f1fa8"},"encoding":{"x":{"datum":28.35},"y":{"datum":139.7}}},
{"data":{"values":[{}]},"mark":{"type":"text","text":"base","fontSize":7.5,"align":"left","baseline":"middle","color":"#333"},"encoding":{"x":{"datum":-0.5},"y":{"datum":-47.8}}},
{"data":{"values":[{}]},"mark":{"type":"text","text":"apex","fontSize":7.5,"align":"right","baseline":"middle","color":"#333"},"encoding":{"x":{"datum":31.2},"y":{"datum":-47.8}}},
{"data":{"values":[{}]},"mark":{"type":"rule","color":"#444","strokeWidth":1},"encoding":{"x":{"datum":4.6},"x2":{"datum":24.9},"y":{"datum":-47.8}}},
{"data":{"values":[{}]},"mark":{"type":"point","shape":"triangle-right","filled":true,"size":22,"color":"#333","opacity":1},"encoding":{"x":{"datum":25.4},"y":{"datum":-47.8}}}
]},
{"width":122,"height":97,"layer":[
{"data":{"name":"H"},"mark":{"type":"line","strokeWidth":1.2,"point":{"filled":true,"size":16,"opacity":1}},"encoding":{"x":{"field":"x","type":"quantitative","scale":{"domain":[0,31]},"axis":{"values":[0,10,20,30],"tickCount":10,"title":"Section number"}},"y":{"field":"y","type":"quantitative","scale":{"domain":[-20,160]},"axis":{"values":[-20,0,20,40,60,80,100,120,140,160],"tickCount":12,"labelOverlap":false,"title":null}},"color":{"field":"g","type":"nominal","scale":{"domain":["WT","mut"],"range":["#f7c1c1","#e31b1b"]},"legend":null}}},
{"data":{"values":[{}]},"mark":{"type":"rect","fill":"#8c8c8c","opacity":0.55},"encoding":{"x":{"datum":0},"x2":{"datum":31},"y":{"datum":-20},"y2":{"datum":0}}},
{"data":{"values":[{}]},"mark":{"type":"rule","color":"black","strokeWidth":1.3},"encoding":{"x":{"datum":15.1},"y":{"datum":13.8},"y2":{"datum":33.3}}},
{"data":{"values":[{}]},"mark":{"type":"point","shape":"triangle-up","filled":true,"size":24,"color":"black","opacity":1},"encoding":{"x":{"datum":15.1},"y":{"datum":33.3}}},
{"data":{"values":[{}]},"mark":{"type":"text","text":"H","fontSize":11.5,"fontWeight":"bold","align":"left","baseline":"middle","color":"black"},"encoding":{"x":{"datum":-4.06},"y":{"datum":176.7}}},
{"data":{"values":[{}]},"mark":{"type":"text","text":"Sox2","fontSize":11,"fontWeight":"bold","fontStyle":"italic","align":"center","baseline":"middle","color":"black"},"encoding":{"x":{"datum":13.5},"y":{"datum":174}}},
{"data":{"values":[{}]},"mark":{"type":"text","text":"WT","fontSize":10,"fontWeight":"bold","align":"center","baseline":"middle","color":"#f7c1c1"},"encoding":{"x":{"datum":23},"y":{"datum":149}}},
{"data":{"values":[{}]},"mark":{"type":"text","text":"Tbc1d32","fontSize":11.5,"fontWeight":"bold","fontStyle":"italic","align":"left","baseline":"middle","color":"#e31b1b"},"encoding":{"x":{"datum":15.6},"y":{"datum":129.4}}},
{"data":{"values":[{}]},"mark":{"type":"text","text":"bromi","fontSize":7.5,"fontWeight":"bold","fontStyle":"italic","align":"left","baseline":"middle","color":"#e31b1b"},"encoding":{"x":{"datum":27.45},"y":{"datum":139.7}}},
{"data":{"values":[{}]},"mark":{"type":"text","text":"base","fontSize":7.5,"align":"left","baseline":"middle","color":"#333"},"encoding":{"x":{"datum":-0.5},"y":{"datum":-47.8}}},
{"data":{"values":[{}]},"mark":{"type":"text","text":"apex","fontSize":7.5,"align":"right","baseline":"middle","color":"#333"},"encoding":{"x":{"datum":31.2},"y":{"datum":-47.8}}},
{"data":{"values":[{}]},"mark":{"type":"rule","color":"#444","strokeWidth":1},"encoding":{"x":{"datum":4.6},"x2":{"datum":24.9},"y":{"datum":-47.8}}},
{"data":{"values":[{}]},"mark":{"type":"point","shape":"triangle-right","filled":true,"size":22,"color":"#333","opacity":1},"encoding":{"x":{"datum":25.4},"y":{"datum":-47.8}}}
]},
{"width":122,"height":97,"layer":[
{"data":{"name":"I"},"mark":{"type":"line","strokeWidth":1.2,"point":{"filled":true,"size":16,"opacity":1}},"encoding":{"x":{"field":"x","type":"quantitative","scale":{"domain":[0,40]},"axis":{"values":[0,10,20,30,40],"tickCount":10,"title":"Section number"}},"y":{"field":"y","type":"quantitative","scale":{"domain":[-20,120]},"axis":{"values":[-20,0,20,40,60,80,100,120],"tickCount":12,"labelOverlap":false,"title":null}},"color":{"field":"g","type":"nominal","scale":{"domain":["WT","mut"],"range":["#a9d18e","#1e7a1e"]},"legend":null}}},
{"data":{"values":[{}]},"mark":{"type":"rect","fill":"#8c8c8c","opacity":0.55},"encoding":{"x":{"datum":0},"x2":{"datum":40},"y":{"datum":-20},"y2":{"datum":0}}},
{"data":{"values":[{}]},"mark":{"type":"rule","color":"black","strokeWidth":1.3},"encoding":{"x":{"datum":31.9},"y":{"datum":70.8},"y2":{"datum":54.6}}},
{"data":{"values":[{}]},"mark":{"type":"point","shape":"triangle-down","filled":true,"size":24,"color":"black","opacity":1},"encoding":{"x":{"datum":31.9},"y":{"datum":54.6}}},
{"data":{"values":[{}]},"mark":{"type":"text","text":"I","fontSize":11.5,"fontWeight":"bold","align":"left","baseline":"middle","color":"black"},"encoding":{"x":{"datum":-3.6},"y":{"datum":133.7}}},
{"data":{"values":[{}]},"mark":{"type":"text","text":"Ptch1","fontSize":11,"fontWeight":"bold","fontStyle":"italic","align":"center","baseline":"middle","color":"black"},"encoding":{"x":{"datum":19},"y":{"datum":132.3}}},
{"data":{"values":[{}]},"mark":{"type":"text","text":"WT","fontSize":10,"fontWeight":"bold","align":"center","baseline":"middle","color":"#a9d18e"},"encoding":{"x":{"datum":9.2},"y":{"datum":106.4}}},
{"data":{"values":[{}]},"mark":{"type":"text","text":"Cilk1","fontSize":10,"fontWeight":"bold","fontStyle":"italic","align":"right","baseline":"middle","color":"#1e7a1e"},"encoding":{"x":{"datum":10.1},"y":{"datum":91}}},
{"data":{"values":[{}]},"mark":{"type":"text","text":"\u00a0KO","fontSize":10,"fontWeight":"bold","align":"left","baseline":"middle","color":"#1e7a1e"},"encoding":{"x":{"datum":10.1},"y":{"datum":91}}},
{"data":{"values":[{}]},"mark":{"type":"text","text":"base","fontSize":7.5,"align":"left","baseline":"middle","color":"#333"},"encoding":{"x":{"datum":-0.6},"y":{"datum":-41.6}}},
{"data":{"values":[{}]},"mark":{"type":"text","text":"apex","fontSize":7.5,"align":"right","baseline":"middle","color":"#333"},"encoding":{"x":{"datum":40.3},"y":{"datum":-41.6}}},
{"data":{"values":[{}]},"mark":{"type":"rule","color":"#444","strokeWidth":1},"encoding":{"x":{"datum":5.9},"x2":{"datum":32.1},"y":{"datum":-41.6}}},
{"data":{"values":[{}]},"mark":{"type":"point","shape":"triangle-right","filled":true,"size":22,"color":"#333","opacity":1},"encoding":{"x":{"datum":32.9},"y":{"datum":-41.6}}}
]},
{"width":122,"height":97,"layer":[
{"data":{"name":"J"},"mark":{"type":"line","strokeWidth":1.2,"point":{"filled":true,"size":16,"opacity":1}},"encoding":{"x":{"field":"x","type":"quantitative","scale":{"domain":[0,40]},"axis":{"values":[0,10,20,30,40],"tickCount":10,"title":"Section number"}},"y":{"field":"y","type":"quantitative","scale":{"domain":[-20,120]},"axis":{"values":[-20,0,20,40,60,80,100,120],"tickCount":12,"labelOverlap":false,"title":null}},"color":{"field":"g","type":"nominal","scale":{"domain":["WT","mut"],"range":["#f4b183","#843c0c"]},"legend":null}}},
{"data":{"values":[{}]},"mark":{"type":"rect","fill":"#8c8c8c","opacity":0.55},"encoding":{"x":{"datum":0},"x2":{"datum":40},"y":{"datum":-20},"y2":{"datum":0}}},
{"data":{"values":[{}]},"mark":{"type":"rule","color":"black","strokeWidth":1.3},"encoding":{"x":{"datum":31.1},"y":{"datum":64.6},"y2":{"datum":49.9}}},
{"data":{"values":[{}]},"mark":{"type":"point","shape":"triangle-down","filled":true,"size":24,"color":"black","opacity":1},"encoding":{"x":{"datum":31.1},"y":{"datum":49.9}}},
{"data":{"values":[{}]},"mark":{"type":"text","text":"J","fontSize":11.5,"fontWeight":"bold","align":"left","baseline":"middle","color":"black"},"encoding":{"x":{"datum":-4.26},"y":{"datum":133.7}}},
{"data":{"values":[{}]},"mark":{"type":"text","text":"Gli1","fontSize":11,"fontWeight":"bold","fontStyle":"italic","align":"center","baseline":"middle","color":"black"},"encoding":{"x":{"datum":19},"y":{"datum":132.3}}},
{"data":{"values":[{}]},"mark":{"type":"text","text":"WT","fontSize":10,"fontWeight":"bold","align":"center","baseline":"middle","color":"#f4b183"},"encoding":{"x":{"datum":8.9},"y":{"datum":106.4}}},
{"data":{"values":[{}]},"mark":{"type":"text","text":"Cilk1","fontSize":10,"fontWeight":"bold","fontStyle":"italic","align":"right","baseline":"middle","color":"#843c0c"},"encoding":{"x":{"datum":10.5},"y":{"datum":91}}},
{"data":{"values":[{}]},"mark":{"type":"text","text":"\u00a0KO","fontSize":10,"fontWeight":"bold","align":"left","baseline":"middle","color":"#843c0c"},"encoding":{"x":{"datum":10.5},"y":{"datum":91}}},
{"data":{"values":[{}]},"mark":{"type":"text","text":"base","fontSize":7.5,"align":"left","baseline":"middle","color":"#333"},"encoding":{"x":{"datum":-0.6},"y":{"datum":-41.6}}},
{"data":{"values":[{}]},"mark":{"type":"text","text":"apex","fontSize":7.5,"align":"right","baseline":"middle","color":"#333"},"encoding":{"x":{"datum":40.3},"y":{"datum":-41.6}}},
{"data":{"values":[{}]},"mark":{"type":"rule","color":"#444","strokeWidth":1},"encoding":{"x":{"datum":5.9},"x2":{"datum":32.1},"y":{"datum":-41.6}}},
{"data":{"values":[{}]},"mark":{"type":"point","shape":"triangle-right","filled":true,"size":22,"color":"#333","opacity":1},"encoding":{"x":{"datum":32.9},"y":{"datum":-41.6}}}
]},
{"width":122,"height":97,"layer":[
{"data":{"name":"K"},"mark":{"type":"line","strokeWidth":1.2,"point":{"filled":true,"size":16,"opacity":1}},"encoding":{"x":{"field":"x","type":"quantitative","scale":{"domain":[0,40]},"axis":{"values":[0,10,20,30,40],"tickCount":10,"title":"Section number"}},"y":{"field":"y","type":"quantitative","scale":{"domain":[-20,160]},"axis":{"values":[-20,0,20,40,60,80,100,120,140,160],"tickCount":12,"labelOverlap":false,"title":null}},"color":{"field":"g","type":"nominal","scale":{"domain":["WT","mut"],"range":["#9dc3e6","#1f1fa8"]},"legend":null}}},
{"data":{"values":[{}]},"mark":{"type":"rect","fill":"#8c8c8c","opacity":0.55},"encoding":{"x":{"datum":0},"x2":{"datum":40},"y":{"datum":-20},"y2":{"datum":0}}},
{"data":{"values":[{}]},"mark":{"type":"rule","color":"black","strokeWidth":1.3},"encoding":{"x":{"datum":28.4},"y":{"datum":68},"y2":{"datum":46.7}}},
{"data":{"values":[{}]},"mark":{"type":"point","shape":"triangle-down","filled":true,"size":24,"color":"black","opacity":1},"encoding":{"x":{"datum":28.4},"y":{"datum":46.7}}},
{"data":{"values":[{}]},"mark":{"type":"text","text":"K","fontSize":11.5,"fontWeight":"bold","align":"left","baseline":"middle","color":"black"},"encoding":{"x":{"datum":-4.26},"y":{"datum":177.6}}},
{"data":{"values":[{}]},"mark":{"type":"text","text":"Atoh1","fontSize":11,"fontWeight":"bold","fontStyle":"italic","align":"center","baseline":"middle","color":"black"},"encoding":{"x":{"datum":18},"y":{"datum":175.8}}},
{"data":{"values":[{}]},"mark":{"type":"text","text":"WT","fontSize":10,"fontWeight":"bold","align":"center","baseline":"middle","color":"#9dc3e6"},"encoding":{"x":{"datum":31.6},"y":{"datum":147.6}}},
{"data":{"values":[{}]},"mark":{"type":"text","text":"Cilk1","fontSize":10,"fontWeight":"bold","fontStyle":"italic","align":"right","baseline":"middle","color":"#1f1fa8"},"encoding":{"x":{"datum":33.4},"y":{"datum":127.4}}},
{"data":{"values":[{}]},"mark":{"type":"text","text":"\u00a0KO","fontSize":10,"fontWeight":"bold","align":"left","baseline":"middle","color":"#1f1fa8"},"encoding":{"x":{"datum":33.4},"y":{"datum":127.4}}},
{"data":{"values":[{}]},"mark":{"type":"text","text":"base","fontSize":7.5,"align":"left","baseline":"middle","color":"#333"},"encoding":{"x":{"datum":-0.6},"y":{"datum":-47.8}}},
{"data":{"values":[{}]},"mark":{"type":"text","text":"apex","fontSize":7.5,"align":"right","baseline":"middle","color":"#333"},"encoding":{"x":{"datum":40.3},"y":{"datum":-47.8}}},
{"data":{"values":[{}]},"mark":{"type":"rule","color":"#444","strokeWidth":1},"encoding":{"x":{"datum":5.9},"x2":{"datum":32.1},"y":{"datum":-47.8}}},
{"data":{"values":[{}]},"mark":{"type":"point","shape":"triangle-right","filled":true,"size":22,"color":"#333","opacity":1},"encoding":{"x":{"datum":32.9},"y":{"datum":-47.8}}}
]},
{"width":122,"height":97,"layer":[
{"data":{"name":"L"},"mark":{"type":"line","strokeWidth":1.2,"point":{"filled":true,"size":16,"opacity":1}},"encoding":{"x":{"field":"x","type":"quantitative","scale":{"domain":[0,40]},"axis":{"values":[0,10,20,30,40],"tickCount":10,"title":"Section number"}},"y":{"field":"y","type":"quantitative","scale":{"domain":[-20,160]},"axis":{"values":[-20,0,20,40,60,80,100,120,140,160],"tickCount":12,"labelOverlap":false,"title":null}},"color":{"field":"g","type":"nominal","scale":{"domain":["WT","mut"],"range":["#f7c1c1","#e31b1b"]},"legend":null}}},
{"data":{"values":[{}]},"mark":{"type":"rect","fill":"#8c8c8c","opacity":0.55},"encoding":{"x":{"datum":0},"x2":{"datum":40},"y":{"datum":-20},"y2":{"datum":0}}},
{"data":{"values":[{}]},"mark":{"type":"rule","color":"black","strokeWidth":1.3},"encoding":{"x":{"datum":28.3},"y":{"datum":15.7},"y2":{"datum":36.3}}},
{"data":{"values":[{}]},"mark":{"type":"point","shape":"triangle-up","filled":true,"size":24,"color":"black","opacity":1},"encoding":{"x":{"datum":28.3},"y":{"datum":36.3}}},
{"data":{"values":[{}]},"mark":{"type":"text","text":"L","fontSize":11.5,"fontWeight":"bold","align":"left","baseline":"middle","color":"black"},"encoding":{"x":{"datum":-5.25},"y":{"datum":177.6}}},
{"data":{"values":[{}]},"mark":{"type":"text","text":"Sox2","fontSize":11,"fontWeight":"bold","fontStyle":"italic","align":"center","baseline":"middle","color":"black"},"encoding":{"x":{"datum":17.4},"y":{"datum":175.8}}},
{"data":{"values":[{}]},"mark":{"type":"text","text":"WT","fontSize":10,"fontWeight":"bold","align":"center","baseline":"middle","color":"#f7c1c1"},"encoding":{"x":{"datum":31.6},"y":{"datum":147.6}}},
{"data":{"values":[{}]},"mark":{"type":"text","text":"Cilk1","fontSize":10,"fontWeight":"bold","fontStyle":"italic","align":"right","baseline":"middle","color":"#e31b1b"},"encoding":{"x":{"datum":33.4},"y":{"datum":127.4}}},
{"data":{"values":[{}]},"mark":{"type":"text","text":"\u00a0KO","fontSize":10,"fontWeight":"bold","align":"left","baseline":"middle","color":"#e31b1b"},"encoding":{"x":{"datum":33.4},"y":{"datum":127.4}}},
{"data":{"values":[{}]},"mark":{"type":"text","text":"base","fontSize":7.5,"align":"left","baseline":"middle","color":"#333"},"encoding":{"x":{"datum":-0.6},"y":{"datum":-47.8}}},
{"data":{"values":[{}]},"mark":{"type":"text","text":"apex","fontSize":7.5,"align":"right","baseline":"middle","color":"#333"},"encoding":{"x":{"datum":40.3},"y":{"datum":-47.8}}},
{"data":{"values":[{}]},"mark":{"type":"rule","color":"#444","strokeWidth":1},"encoding":{"x":{"datum":5.9},"x2":{"datum":32.1},"y":{"datum":-47.8}}},
{"data":{"values":[{}]},"mark":{"type":"point","shape":"triangle-right","filled":true,"size":22,"color":"#333","opacity":1},"encoding":{"x":{"datum":32.9},"y":{"datum":-47.8}}}
]}
]
}
